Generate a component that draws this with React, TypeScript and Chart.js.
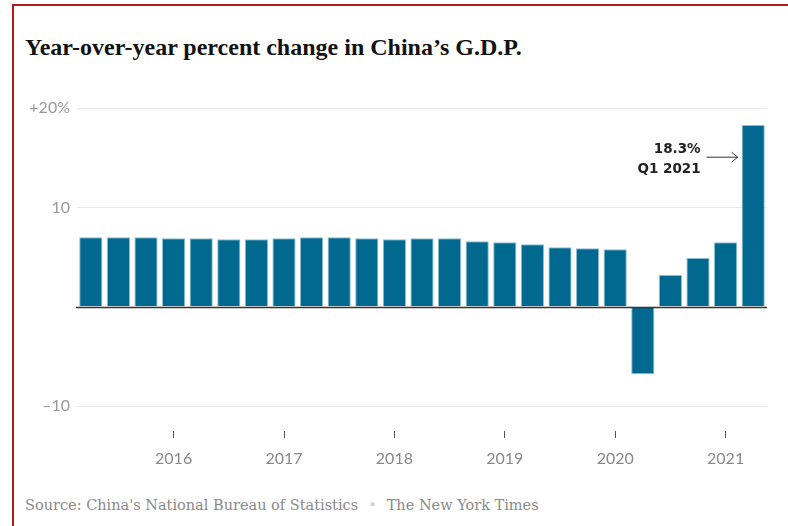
import React, { useEffect, useRef } from "react";
import { Chart, registerables } from "chart.js";

Chart.register(...registerables);

const quarters = [
  "Q1 2015", "Q2 2015", "Q3 2015", "Q4 2015",
  "Q1 2016", "Q2 2016", "Q3 2016", "Q4 2016",
  "Q1 2017", "Q2 2017", "Q3 2017", "Q4 2017",
  "Q1 2018", "Q2 2018", "Q3 2018", "Q4 2018",
  "Q1 2019", "Q2 2019", "Q3 2019", "Q4 2019",
  "Q1 2020", "Q2 2020", "Q3 2020", "Q4 2020",
  "Q1 2021",
];

const gdpChange = [
  7.0, 7.0, 7.0, 6.9,
  6.9, 6.8, 6.8, 6.9,
  7.0, 7.0, 6.9, 6.8,
  6.9, 6.9, 6.6, 6.5,
  6.3, 6.0, 5.9, 5.8,
  -6.8, 3.2, 4.9, 6.5,
  18.3,
];

const yearLabels = ["2016", "2017", "2018", "2019", "2020", "2021"];
const yTicks = [-10, 0, 10, 20];
const yTickLabels = ["\u201310", "", "10", "+20%"];

const annotationLines = ["18.3%", "Q1 2021"];

const BAR_COLOR = "#01688f";

function yearTickFor(label: string): string {
  // Q4 bars sit at year end, so the next year's label goes under them
  if (!label.startsWith("Q4")) return "";
  const next = String(parseInt(label.slice(3), 10) + 1);
  return yearLabels.includes(next) ? next : "";
}

export default function App() {
  const canvasRef = useRef<HTMLCanvasElement | null>(null);

  useEffect(() => {
    if (!canvasRef.current) return;

    const zeroLine = {
      id: "zeroLine",
      afterDatasetsDraw(chart: any) {
        const { ctx, chartArea, scales } = chart;
        const y = Math.round(scales.y.getPixelForValue(0)) + 0.5;
        ctx.save();
        ctx.strokeStyle = "#333333";
        ctx.lineWidth = 1.5;
        ctx.beginPath();
        ctx.moveTo(chartArea.left - 1, y);
        ctx.lineTo(chartArea.right, y);
        ctx.stroke();
        ctx.restore();
      },
    };

    const annotation = {
      id: "annotation",
      afterDraw(chart: any) {
        const { ctx, scales } = chart;
        const meta = chart.getDatasetMeta(0);
        const last = meta.data[meta.data.length - 1];
        const barLeft = last.x - last.width / 2;
        const arrowEnd = barLeft - 4;
        const arrowStart = arrowEnd - 31;
        const yArrow = scales.y.getPixelForValue(15.1);
        ctx.save();
        ctx.fillStyle = "#222222";
        ctx.font = "bold 13.5px 'DejaVu Sans'";
        ctx.textAlign = "right";
        ctx.textBaseline = "middle";
        const textX = arrowStart - 6;
        ctx.fillText(annotationLines[0], textX, yArrow - 7);
        ctx.fillText(annotationLines[1], textX, yArrow + 13);
        ctx.strokeStyle = "#333333";
        ctx.lineWidth = 1;
        ctx.beginPath();
        ctx.moveTo(arrowStart, yArrow + 0.5);
        ctx.lineTo(arrowEnd, yArrow + 0.5);
        ctx.moveTo(arrowEnd - 6, yArrow - 4.5);
        ctx.lineTo(arrowEnd, yArrow + 0.5);
        ctx.lineTo(arrowEnd - 6, yArrow + 5.5);
        ctx.stroke();
        ctx.restore();
      },
    };

    const chart = new Chart(canvasRef.current, {
      type: "bar",
      data: {
        labels: quarters,
        datasets: [
          {
            data: gdpChange,
            backgroundColor: BAR_COLOR,
            borderColor: "#8dbdd0",
            borderWidth: 1,
            barPercentage: 0.84,
            categoryPercentage: 1,
          },
        ],
      },
      options: {
        animation: false,
        responsive: false,
        maintainAspectRatio: false,
        layout: { padding: { top: 18, right: 21, left: 0, bottom: 0 } },
        plugins: {
          legend: { display: false },
          tooltip: { enabled: false },
          title: { display: false },
        },
        scales: {
          x: {
            type: "category",
            offset: true,
            border: { display: false },
            grid: {
              offset: false,
              drawOnChartArea: false,
              drawTicks: true,
              tickLength: 7,
              lineWidth: 1,
              tickColor: (c: any) =>
                yearTickFor(quarters[c.index] || "") ? "#555555" : "rgba(0,0,0,0)",
            },
            ticks: {
              autoSkip: false,
              maxRotation: 0,
              minRotation: 0,
              padding: 11,
              color: "#888888",
              font: { family: "Lato", size: 16 },
              callback: (_v: any, i: number) => yearTickFor(quarters[i]),
            },
            afterFit: (s: any) => {
              s.height = 49;
            },
          },
          y: {
            min: -12.5,
            max: 20,
            border: { display: false },
            afterBuildTicks: (s: any) => {
              s.ticks = yTicks.map((v) => ({ value: v }));
            },
            afterFit: (s: any) => {
              s.width = 77;
            },
            grid: {
              drawTicks: false,
              lineWidth: 1,
              color: (c: any) =>
                c.tick && c.tick.value === 0 ? "rgba(0,0,0,0)" : "#e6e6e6",
            },
            ticks: {
              padding: 7,
              color: "#999999",
              font: { family: "Lato", size: 16 },
              callback: (v: any) => {
                const i = yTicks.indexOf(Number(v));
                return i >= 0 ? yTickLabels[i] : "";
              },
            },
          },
        },
      },
      plugins: [zeroLine, annotation],
    } as any);

    return () => chart.destroy();
  }, []);

  return (
    <div
      style={{
        position: "fixed",
        left: 0,
        top: 0,
        width: 788,
        height: 526,
        overflow: "hidden",
        background: "#ffffff",
      }}
    >
      <div
        style={{
          position: "absolute",
          left: 12,
          top: 4,
          width: 900,
          height: 700,
          borderTop: "2px solid #b51a1a",
          borderLeft: "2px solid #b51a1a",
        }}
      />
      <div
        style={{
          position: "absolute",
          left: 25,
          top: 33,
          fontFamily: "'Liberation Serif', serif",
          fontWeight: "bold",
          fontSize: 24,
          lineHeight: "28px",
          color: "#121212",
          whiteSpace: "nowrap",
        }}
      >
        Year-over-year percent change in China’s G.D.P.
      </div>
      <canvas
        ref={canvasRef}
        width={788}
        height={390}
        style={{ position: "absolute", left: 0, top: 90, width: 788, height: 390 }}
      />
      <div
        style={{
          position: "absolute",
          left: 25,
          top: 495,
          fontFamily: "'DejaVu Serif', serif",
          fontSize: 14.5,
          lineHeight: "20px",
          color: "#8a8a8a",
          whiteSpace: "nowrap",
        }}
      >
        Source: China's National Bureau of Statistics
        <span style={{ color: "#d0d0d0", margin: "0 10px" }}>•</span>
        The New York Times
      </div>
    </div>
  );
}
